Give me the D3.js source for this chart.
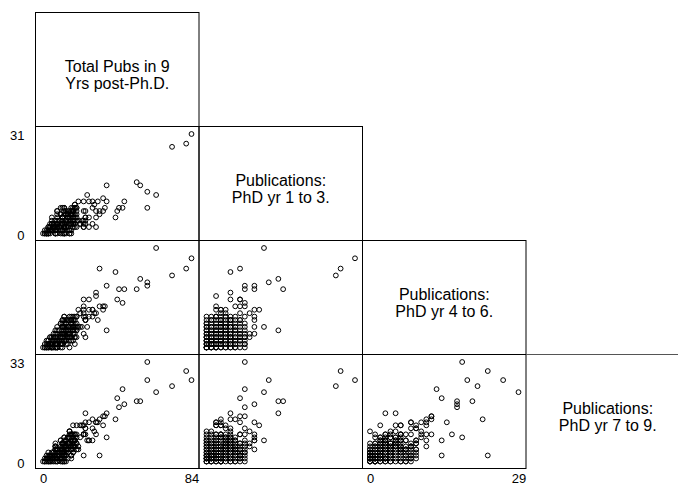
<!DOCTYPE html>
<html>
<head>
<meta charset="utf-8">
<script src="https://cdn.jsdelivr.net/npm/d3@7"></script>
<style>
  body { margin: 0; background: #fff; }
</style>
</head>
<body>
<script>
var w = 678,
    h = 485;

// diagonal labels (two lines each)
var varLabels = [
    ["Total Pubs in 9", "Yrs post-Ph.D."],
    ["Publications:", "PhD yr 1 to 3."],
    ["Publications:", "PhD yr 4 to 6."],
    ["Publications:", "PhD yr 7 to 9."]
];

// tick labels shown on the outer axes
var yTickRows = [1, 3];
var yTickValues = [[0, 31], [0, 33]];
var xTickCols = [0, 2];
var xTickValues = [[0, 84], [0, 29]];

// one entry per person
var pubsYr1to3 = [
    31, 28, 27, 12, 13, 8, 15, 16, 10, 8,
    8, 7, 5, 7, 5, 15, 10, 5, 2, 2,
    6, 8, 11, 12, 7, 9, 8, 3, 4, 3,
    2, 4, 3, 5, 4, 4, 3, 10, 10, 10,
    9, 7, 7, 5, 2, 7, 3, 2, 3, 10,
    8, 3, 9,
    0, 0, 0, 0, 0, 0, 0, 0, 0, 0, 0, 0, 0,
    1, 1, 1, 1, 1, 1, 1, 1, 1, 1, 1, 1, 1,
    2, 2, 2, 2, 2, 2, 2, 2, 2, 2, 2, 2, 2,
    3, 3, 3, 3, 3, 3, 3, 3, 3, 3, 3, 3, 3,
    4, 4, 4, 4, 4, 4, 4, 4, 4, 4, 4, 4, 4,
    5, 5, 5, 5, 5, 5, 5, 5, 5, 5, 5, 5, 5,
    6, 6, 6, 6, 6, 6, 6, 6, 6, 6, 6, 6,
    7, 7, 7, 7, 7, 7, 7, 7, 7, 7,
    8, 8, 8, 8, 8, 8, 8,
    10,
    0, 1, 0, 1, 2, 1, 0, 2, 1, 3, 2, 1, 0, 2, 3, 3,
    0, 0, 0, 0, 0, 0, 1, 1, 1, 1, 1, 1,
    2, 2, 2, 2, 2, 2, 3, 3, 3, 3, 3,
    4, 4, 4, 4, 4, 5, 5, 5, 5,
    6, 6, 6, 6, 7, 7, 8, 8
];
var pubsYr4to6 = [
    26, 23, 21, 29, 19, 18, 20, 17, 17, 17,
    13, 14, 22, 23, 3, 5, 18, 16, 15, 12,
    12, 12, 11, 6, 14, 3, 1, 11, 10, 2,
    5, 6, 8, 8, 9, 11, 7, 4, 9, 11,
    10, 8, 12, 14, 9, 10, 6, 11, 11, 8,
    9, 10, 4,
    0, 1, 2, 3, 4, 5, 6, 7, 0, 1, 2, 3, 8,
    0, 1, 2, 3, 4, 5, 6, 7, 0, 2, 9, 3, 1,
    0, 1, 2, 3, 4, 5, 6, 7, 8, 0, 2, 4, 1,
    0, 1, 2, 3, 4, 5, 6, 7, 9, 1, 3, 5, 2,
    0, 1, 2, 3, 4, 5, 6, 7, 8, 2, 0, 4, 3,
    0, 1, 2, 3, 4, 5, 6, 7, 1, 3, 9, 2, 0,
    0, 1, 2, 3, 4, 5, 6, 7, 1, 3, 0, 8,
    0, 1, 2, 3, 4, 5, 6, 2, 8, 3,
    0, 2, 3, 4, 5, 6, 1,
    6,
    0, 0, 1, 1, 1, 2, 2, 0, 1, 1, 2, 3, 0, 3, 0, 2,
    4, 6, 9, 5, 3, 7, 5, 8, 4, 6, 2, 8,
    6, 9, 5, 3, 7, 9, 8, 4, 6, 8, 4,
    9, 5, 7, 1, 6, 8, 6, 4, 8,
    9, 5, 2, 6, 7, 4, 7, 3
];
var pubsYr7to9 = [
    27, 30, 25, 23, 27, 33, 20, 20, 19, 18,
    24, 21, 14, 2, 16, 16, 8, 9, 13, 9,
    14, 15, 12, 7, 2, 6, 1, 9, 9, 12,
    12, 12, 13, 11, 11, 5, 0, 9, 7, 7,
    10, 9, 15, 7, 12, 13, 12, 13, 14, 13,
    11, 8, 5,
    0, 2, 1, 4, 3, 6, 2, 5, 3, 0, 5, 1, 4,
    1, 3, 0, 2, 5, 1, 4, 3, 6, 7, 2, 0, 5,
    2, 1, 4, 3, 0, 2, 6, 1, 3, 5, 8, 6, 4,
    3, 4, 2, 5, 1, 0, 3, 7, 4, 0, 9, 5, 6,
    4, 2, 3, 0, 6, 4, 1, 2, 5, 7, 1, 3, 8,
    0, 5, 1, 3, 2, 7, 0, 4, 8, 6, 3, 4, 10,
    2, 3, 5, 1, 4, 3, 5, 0, 6, 7, 4, 2,
    1, 0, 3, 4, 2, 5, 4, 6, 1, 9,
    3, 2, 5, 0, 6, 3, 9,
    4,
    1, 0, 1, 1, 0, 2, 0, 1, 2, 1, 2, 1, 2, 1, 2, 1,
    8, 7, 6, 10, 7, 9, 8, 6, 10, 9, 4, 2,
    9, 7, 5, 7, 4, 1, 5, 8, 9, 0, 4,
    6, 8, 7, 6, 5, 5, 8, 6, 1,
    4, 7, 8, 0, 2, 6, 4, 7
];
var pubsTotal = [
    84, 81, 73, 64, 59, 59, 55, 53, 46, 43,
    45, 42, 41, 32, 24, 36, 36, 30, 30, 23,
    32, 35, 34, 25, 23, 18, 10, 23, 23, 17,
    19, 22, 24, 24, 24, 20, 10, 23, 26, 28,
    29, 24, 34, 26, 23, 30, 21, 26, 28, 31,
    28, 21, 18,
    0, 3, 3, 7, 7, 11, 8, 12, 3, 1, 7, 4, 12,
    2, 5, 3, 6, 10, 7, 11, 11, 7, 10, 12, 4, 7,
    4, 4, 8, 8, 6, 9, 14, 10, 13, 7, 12, 12, 7,
    6, 8, 7, 11, 8, 8, 12, 17, 16, 4, 15, 13, 11,
    8, 7, 9, 7, 14, 13, 11, 13, 17, 13, 5, 11, 15,
    5, 11, 8, 11, 11, 17, 11, 16, 14, 14, 17, 11, 15,
    8, 10, 13, 10, 14, 14, 17, 13, 13, 16, 10, 16,
    8, 8, 12, 14, 13, 17, 17, 15, 16, 19,
    11, 12, 16, 12, 19, 17, 18,
    20,
    1, 1, 2, 3, 3, 5, 2, 3, 4, 5, 6, 5, 2, 6, 5, 6,
    12, 13, 15, 15, 10, 16, 14, 15, 15, 16, 7, 11,
    17, 18, 12, 12, 13, 12, 16, 15, 18, 11, 11,
    19, 17, 18, 11, 15, 18, 19, 15, 14,
    19, 18, 16, 12, 16, 17, 19, 18
];

var columns = [pubsTotal, pubsYr1to3, pubsYr4to6, pubsYr7to9];

var left0 = 35.5,
    top0 = 12.5,
    cellW = 163.5,
    cellH = 114,
    padX = 7.5,
    padTop = 7.5,
    padBottom = 7,
    fontFam = "'Liberation Sans', Arial, Helvetica, sans-serif";

var svg = d3.select("body")
    .append("svg")
    .attr("width", w)
    .attr("height", h)
    .style("display", "block");

function xScale(c) {
    var x0 = left0 + c * cellW;
    return d3.scaleLinear()
        .domain([0, d3.max(columns[c])])
        .range([x0 + padX, x0 + cellW - padX]);
}

function yScale(r) {
    var y0 = top0 + r * cellH;
    return d3.scaleLinear()
        .domain([0, d3.max(columns[r])])
        .range([y0 + cellH - padBottom, y0 + padTop]);
}

// panel frames, lower triangle
for (var r = 0; r < 4; r++) {
    for (var c = 0; c <= r; c++) {
        var x0 = left0 + c * cellW,
            y0 = top0 + r * cellH;
        if (r == 3 && c == 3) {
            // last diagonal cell runs off the page, only its top edge shows
            svg.append("line")
                .attr("x1", x0).attr("x2", w)
                .attr("y1", y0).attr("y2", y0)
                .attr("stroke", "#555")
                .attr("stroke-width", 1);
        } else {
            svg.append("rect")
                .attr("x", x0)
                .attr("y", y0)
                .attr("width", cellW)
                .attr("height", cellH)
                .attr("fill", "none")
                .attr("stroke", "#000")
                .attr("stroke-width", 1);
        }
    }
}

// diagonal labels
varLabels.forEach(function(lines, i) {
    var cx = left0 + i * cellW + cellW / 2,
        y0 = top0 + i * cellH;
    var t = svg.append("text")
        .attr("text-anchor", "middle")
        .attr("font-family", fontFam)
        .attr("font-size", 16)
        .attr("fill", "#000");
    lines.forEach(function(s, k) {
        t.append("tspan")
            .attr("x", cx)
            .attr("y", y0 + 59.5 + k * 16.5)
            .text(s);
    });
});

// scatter cells
for (var r = 1; r < 4; r++) {
    for (var c = 0; c < r; c++) {
        var xs = xScale(c),
            ys = yScale(r),
            pts = columns[c].map(function(v, i) {
                return [v, columns[r][i]];
            });
        svg.append("g")
            .selectAll("circle")
            .data(pts)
            .enter()
            .append("circle")
            .attr("cx", function(d) { return xs(d[0]); })
            .attr("cy", function(d) { return ys(d[1]); })
            .attr("r", 2.4)
            .attr("fill", "none")
            .attr("stroke", "#000")
            .attr("stroke-width", 1);
    }
}

// y tick labels on the left edge
yTickRows.forEach(function(r, k) {
    var g = svg.append("g")
        .attr("transform", "translate(" + left0 + ",0)")
        .call(d3.axisLeft(yScale(r))
            .tickValues(yTickValues[k])
            .tickSize(0)
            .tickPadding(11));
    g.select(".domain").remove();
    g.attr("font-family", fontFam).attr("font-size", 13);
    g.selectAll("text").attr("dy", "0.45em").attr("fill", "#000");
});

// x tick labels along the bottom
xTickCols.forEach(function(c, k) {
    var g = svg.append("g")
        .attr("transform", "translate(0," + (top0 + 4 * cellH) + ")")
        .call(d3.axisBottom(xScale(c))
            .tickValues(xTickValues[k])
            .tickSize(0)
            .tickPadding(5));
    g.select(".domain").remove();
    g.attr("font-family", fontFam).attr("font-size", 13);
    g.selectAll("text").attr("fill", "#000");
});
</script>
</body>
</html>
